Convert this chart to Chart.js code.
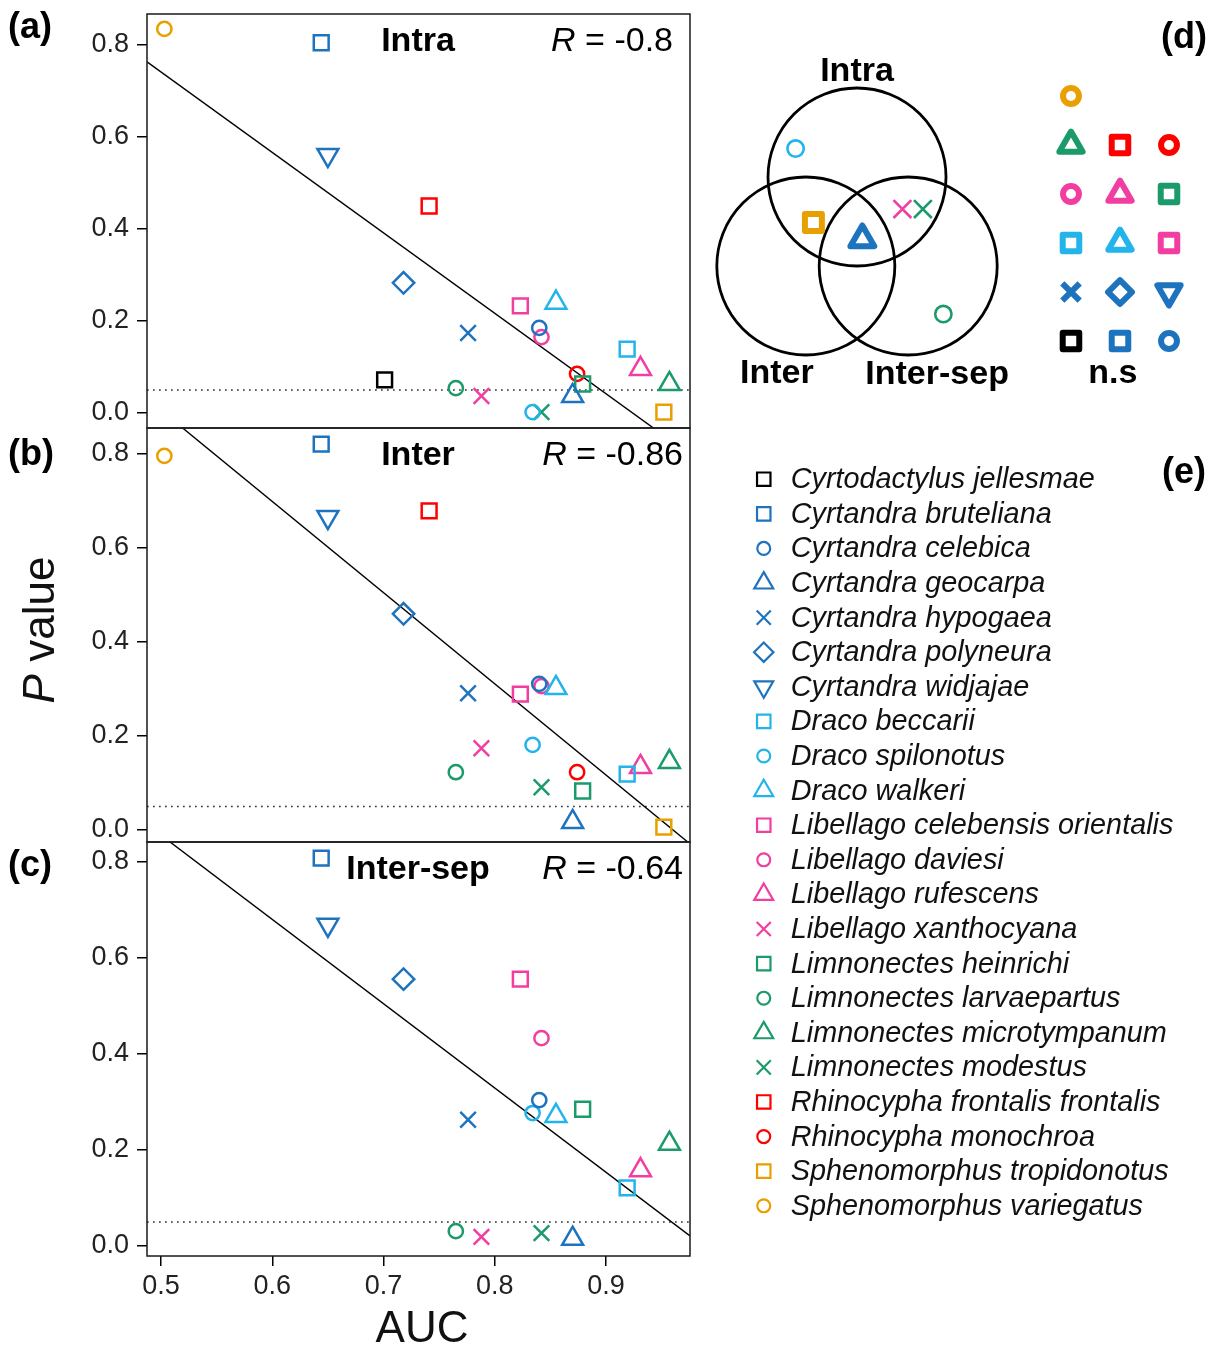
<!DOCTYPE html>
<html>
<head>
<meta charset="utf-8">
<title>P value vs AUC</title>
<script src="https://cdn.jsdelivr.net/npm/chart.js@4.4.1/dist/chart.umd.min.js"></script>
<style>
  body { margin: 0; background: #fff; }
  #wrap { position: relative; width: 1215px; height: 1351px; overflow: hidden; }
  canvas { position: absolute; }
</style>
</head>
<body>
<div id="wrap">
  <canvas id="panelA" width="700" height="440" style="left:0;top:0"></canvas>
  <canvas id="panelB" width="700" height="440" style="left:0;top:418px"></canvas>
  <canvas id="panelC" width="700" height="519" style="left:0;top:832px"></canvas>
  <canvas id="venn" width="515" height="410" style="left:700px;top:0"></canvas>
  <canvas id="legend" width="475" height="775" style="left:740px;top:455px"></canvas>
</div>
<script>
const FONT = '"Liberation Sans", Arial, Helvetica, sans-serif';
Chart.defaults.font.family = FONT;
Chart.defaults.color = '#111';

// species, in legend order
const species = [
  "Cyrtodactylus jellesmae", "Cyrtandra bruteliana", "Cyrtandra celebica", "Cyrtandra geocarpa",
  "Cyrtandra hypogaea", "Cyrtandra polyneura", "Cyrtandra widjajae", "Draco beccarii",
  "Draco spilonotus", "Draco walkeri", "Libellago celebensis orientalis", "Libellago daviesi",
  "Libellago rufescens", "Libellago xanthocyana", "Limnonectes heinrichi", "Limnonectes larvaepartus",
  "Limnonectes microtympanum", "Limnonectes modestus", "Rhinocypha frontalis frontalis",
  "Rhinocypha monochroa", "Sphenomorphus tropidonotus", "Sphenomorphus variegatus"
];
const auc = [0.701, 0.644, 0.840, 0.870, 0.776, 0.718, 0.650, 0.919, 0.834, 0.855, 0.823, 0.842,
             0.931, 0.788, 0.879, 0.765, 0.957, 0.842, 0.741, 0.874, 0.952, 0.503];
const pIntra = [0.072, 0.805, 0.185, 0.037, 0.174, 0.283, 0.561, 0.139, 0.002, 0.240, 0.233, 0.165,
                0.096, 0.037, 0.063, 0.054, 0.063, 0.002, 0.450, 0.085, 0.002, 0.835];
const pInter = [null, 0.821, 0.311, 0.017, 0.291, 0.460, 0.666, 0.119, 0.181, 0.302, 0.289, 0.306,
                0.134, 0.174, 0.083, 0.123, 0.145, 0.091, 0.679, 0.123, 0.006, 0.796];
const pInterSep = [null, 0.808, 0.304, 0.015, 0.263, 0.556, 0.669, 0.121, 0.277, 0.271, 0.556, 0.433,
                   0.158, 0.019, 0.285, 0.031, 0.213, 0.027, null, null, null, null];
const panelNames = ["Intra", "Inter", "Inter-sep"];
const rValues = ["-0.8", "-0.86", "-0.64"];
const fitIntercept = [1.616, 1.863, 1.734];
const fitSlope = [-1.749, -1.940, -1.756];
const alpha = 0.05;
const xTicks = [0.5, 0.6, 0.7, 0.8, 0.9];
const yTicks = [0.0, 0.2, 0.4, 0.6, 0.8];

// venn: species significant in some analysis, and the n.s grid
const vennSets = ["Intra", "Inter", "Inter-sep"];
const vennMembers = [8, 20, 3, 13, 17, 15];
const nsGrid = [[21], [16, 18, 19], [11, 12, 14], [7, 9, 10], [4, 5, 6], [0, 1, 2]];

// ---- styles ----
const BLUE = '#1e73be', SKY = '#22b4ea', PINK = '#f23ea0', GREEN = '#1b9a6a', RED = '#ff0000', ORANGE = '#e8a000';
const speciesColor = ['#000000', BLUE, BLUE, BLUE, BLUE, BLUE, BLUE, SKY, SKY, SKY, PINK, PINK, PINK, PINK,
                      GREEN, GREEN, GREEN, GREEN, RED, RED, ORANGE, ORANGE];
const speciesShape = ['square', 'square', 'circle', 'triangle', 'cross', 'diamond', 'down', 'square', 'circle',
                      'triangle', 'square', 'circle', 'triangle', 'cross', 'square', 'circle', 'triangle', 'cross',
                      'square', 'circle', 'square', 'circle'];
const SHAPES = {
  square:   { style: 'rect', rot: 0, size: 1.0 },
  circle:   { style: 'circle', rot: 0, size: 0.68 },
  triangle: { style: 'triangle', rot: 0, size: 1.15 },
  down:     { style: 'triangle', rot: 180, size: 1.15 },
  cross:    { style: 'crossRot', rot: 0, size: 1.05 },
  diamond:  { style: 'rectRot', rot: 0, size: 1.02 }
};

function markerDataset(i, points, base, lw) {
  const sh = SHAPES[speciesShape[i]];
  return {
    label: species[i],
    data: points,
    pointStyle: sh.style,
    pointRotation: sh.rot,
    pointRadius: base * sh.size,
    pointHoverRadius: base * sh.size,
    pointBorderWidth: lw,
    pointBorderColor: speciesColor[i],
    pointBackgroundColor: 'rgba(0,0,0,0)',
    showLine: false,
    clip: false,
    order: 0
  };
}

// axis limits (x shared by the three panels)
const xMin = 0.4874, xMax = 0.9755;
const yRanges = [[-0.0326, 0.8674], [-0.0255, 0.8553], [-0.0208, 0.8417]];

const panelDecor = {
  id: 'panelDecor',
  afterDatasetsDraw(chart, args, o) {
    const { ctx, chartArea: a } = chart;
    ctx.save();
    ctx.strokeStyle = '#1a1a1a';
    ctx.lineWidth = 1.5;
    ctx.strokeRect(a.left, a.top, a.right - a.left, a.bottom - a.top);
    ctx.fillStyle = '#000';
    ctx.textBaseline = 'middle';
    ctx.textAlign = 'center';
    ctx.font = 'bold 34px ' + FONT;
    ctx.fillText(o.title, a.left + 271, a.top + 28);
    // R = value, with italic R
    ctx.textAlign = 'right';
    ctx.font = '34px ' + FONT;
    const rest = ' = ' + o.r;
    ctx.fillText(rest, o.rRight, a.top + 28);
    const w = ctx.measureText(rest).width;
    ctx.font = 'italic 34px ' + FONT;
    ctx.fillText('R', o.rRight - w, a.top + 28);
    // panel letter
    ctx.textAlign = 'left';
    ctx.font = 'bold 36px ' + FONT;
    ctx.fillText(o.letter, 8, a.top + o.letterDy);
    ctx.restore();
  }
};

const axisTitles = {
  id: 'axisTitles',
  afterDraw(chart, args, o) {
    const ctx = chart.ctx;
    ctx.save();
    ctx.fillStyle = '#111';
    ctx.textBaseline = 'middle';
    if (o.yTitle) {
      ctx.translate(o.yTitle.x, o.yTitle.y);
      ctx.rotate(-Math.PI / 2);
      ctx.font = 'italic 44px ' + FONT;
      const wp = ctx.measureText('P').width;
      ctx.font = '44px ' + FONT;
      const wv = ctx.measureText(' value').width;
      const x0 = -(wp + wv) / 2;
      ctx.textAlign = 'left';
      ctx.font = 'italic 44px ' + FONT;
      ctx.fillText('P', x0, 0);
      ctx.font = '44px ' + FONT;
      ctx.fillText(' value', x0 + wp, 0);
    }
    if (o.xTitle) {
      ctx.textAlign = 'center';
      ctx.font = '44px ' + FONT;
      ctx.fillText('AUC', o.xTitle.x, o.xTitle.y);
    }
    ctx.restore();
  }
};

function makePanel(id, k, pvals, pad, withX, decor, titles) {
  const datasets = [];
  species.forEach((name, i) => {
    if (pvals[i] !== null) datasets.push(markerDataset(i, [{ x: auc[i], y: pvals[i] }], 10.5, 2.5));
  });
  // regression line
  datasets.push({
    type: 'line', label: 'fit',
    data: [xMin, xMax].map(x => ({ x: x, y: fitIntercept[k] + fitSlope[k] * x })),
    borderColor: '#000', borderWidth: 1.4, pointRadius: 0, clip: 0, order: 10
  });
  // P = 0.05
  datasets.push({
    type: 'line', label: 'alpha',
    data: [{ x: xMin, y: alpha }, { x: xMax, y: alpha }],
    borderColor: '#333', borderWidth: 1.7, borderDash: [1.7, 4.3], pointRadius: 0, clip: 0, order: 10
  });

  return new Chart(document.getElementById(id), {
    type: 'scatter',
    data: { datasets: datasets },
    options: {
      responsive: false,
      maintainAspectRatio: false,
      devicePixelRatio: 1,
      animation: false,
      events: [],
      layout: { padding: pad, autoPadding: false },
      scales: {
        x: {
          type: 'linear', min: xMin, max: xMax, display: withX,
          afterFit: s => { if (withX) s.height = 95; s.paddingLeft = 0; s.paddingRight = 0; },
          afterBuildTicks: s => { s.ticks = xTicks.map(v => ({ value: v })); },
          ticks: { callback: v => v.toFixed(1), font: { size: 27 }, color: '#222', padding: 4, maxRotation: 0 },
          grid: { drawOnChartArea: false, tickLength: 10, color: '#000', lineWidth: 1.5 },
          border: { display: false }
        },
        y: {
          type: 'linear', min: yRanges[k][0], max: yRanges[k][1],
          afterFit: s => { s.width = 147; s.paddingTop = 0; s.paddingBottom = 0; },
          afterBuildTicks: s => { s.ticks = yTicks.map(v => ({ value: v })); },
          ticks: { callback: v => v.toFixed(1), font: { size: 27 }, color: '#222', padding: 8 },
          grid: { drawOnChartArea: false, tickLength: 10, color: '#000', lineWidth: 1.5 },
          border: { display: false }
        }
      },
      plugins: {
        legend: { display: false },
        tooltip: { enabled: false },
        panelDecor: decor,
        axisTitles: titles || {}
      }
    },
    plugins: [panelDecor, axisTitles]
  });
}

makePanel('panelA', 0, pIntra, { top: 14, bottom: 12, left: 0, right: 10 }, false,
  { title: panelNames[0], r: rValues[0], rRight: 673, letter: '(a)', letterDy: 14 });
makePanel('panelB', 1, pInter, { top: 10, bottom: 16, left: 0, right: 10 }, false,
  { title: panelNames[1], r: rValues[1], rRight: 683, letter: '(b)', letterDy: 27 },
  { yTitle: { x: 42, y: 212 } });
makePanel('panelC', 2, pInterSep, { top: 10, bottom: 0, left: 0, right: 10 }, true,
  { title: panelNames[2], r: rValues[2], rRight: 683, letter: '(c)', letterDy: 24 },
  { xTitle: { x: 422, y: 498 } });

// ---- (d) venn diagram, unit = circle radius ----
const vennCenters = [{ x: 0, y: 1.0 }, { x: -0.575, y: 0 }, { x: 0.575, y: 0 }];
const vennLabelPos = [{ x: 0, y: 2.18 }, { x: -0.9, y: -1.207 }, { x: 0.9, y: -1.22 }];
// placement of each member inside its region, and whether drawn bold
const vennSpots = [
  { x: -0.69, y: 1.32, bold: false },
  { x: -0.49, y: 0.49, bold: true },
  { x: 0.06, y: 0.30, bold: true },
  { x: 0.51, y: 0.64, bold: false },
  { x: 0.74, y: 0.64, bold: false },
  { x: 0.97, y: -0.54, bold: false }
];
const grid = { x0: 2.404, y0: 1.910, step: 0.5506 };

const vennDatasets = [{
  label: 'sets',
  data: vennCenters,
  pointStyle: 'circle',
  pointRadius: c => { const s = c.chart.scales.x; return s.getPixelForValue(1) - s.getPixelForValue(0); },
  pointBorderWidth: 2.8,
  pointBorderColor: '#000',
  pointBackgroundColor: 'rgba(0,0,0,0)',
  clip: false,
  order: 5
}];
vennMembers.forEach((sp, j) => {
  const spot = vennSpots[j];
  vennDatasets.push(markerDataset(sp, [{ x: spot.x, y: spot.y }], 12, spot.bold ? 6 : 2.6));
});
nsGrid.forEach((row, r) => row.forEach((sp, c) => {
  vennDatasets.push(markerDataset(sp, [{ x: grid.x0 + c * grid.step, y: grid.y0 - r * grid.step }], 11.7, 6));
}));

const vennText = {
  id: 'vennText',
  beforeDatasetsDraw(chart) { chart.ctx.lineJoin = 'round'; },
  afterDraw(chart) {
    const { ctx, scales: { x, y } } = chart;
    ctx.save();
    ctx.fillStyle = '#000';
    ctx.textAlign = 'center';
    ctx.textBaseline = 'middle';
    ctx.font = 'bold 34px ' + FONT;
    vennSets.forEach((s, i) => ctx.fillText(s, x.getPixelForValue(vennLabelPos[i].x), y.getPixelForValue(vennLabelPos[i].y)));
    ctx.fillText('n.s', x.getPixelForValue(grid.x0 + 0.47), y.getPixelForValue(-1.207));
    ctx.font = 'bold 36px ' + FONT;
    ctx.fillText('(d)', x.getPixelForValue(3.674), y.getPixelForValue(2.562));
    ctx.restore();
  }
};

new Chart(document.getElementById('venn'), {
  type: 'scatter',
  data: { datasets: vennDatasets },
  options: {
    responsive: false, maintainAspectRatio: false, devicePixelRatio: 1, animation: false, events: [],
    layout: { padding: 0, autoPadding: false },
    scales: {
      x: { display: false, min: -1.764, max: 4.022 },
      y: { display: false, min: -1.618, max: 2.989 }
    },
    plugins: { legend: { display: false }, tooltip: { enabled: false } }
  },
  plugins: [vennText]
});

// ---- (e) species legend ----
const legendNames = {
  id: 'legendNames',
  afterDraw(chart) {
    const { ctx, scales: { x, y } } = chart;
    ctx.save();
    ctx.fillStyle = '#111';
    ctx.textAlign = 'left';
    ctx.textBaseline = 'middle';
    ctx.font = 'italic 28.8px ' + FONT;
    species.forEach((name, i) => ctx.fillText(name, x.getPixelForValue(0.05) + 27, y.getPixelForValue(i) + 1));
    ctx.font = 'bold 36px ' + FONT;
    ctx.textAlign = 'center';
    ctx.fillStyle = '#000';
    ctx.fillText('(e)', 444, 18);
    ctx.restore();
  }
};

new Chart(document.getElementById('legend'), {
  type: 'scatter',
  data: { datasets: species.map((name, i) => markerDataset(i, [{ x: 0.05, y: i }], 9.5, 2.2)) },
  options: {
    responsive: false, maintainAspectRatio: false, devicePixelRatio: 1, animation: false, events: [],
    layout: { padding: 0, autoPadding: false },
    scales: {
      x: { display: false, min: 0, max: 1 },
      y: { display: false, reverse: true, min: -0.7, max: 21.7 }
    },
    plugins: { legend: { display: false }, tooltip: { enabled: false } }
  },
  plugins: [legendNames]
});
</script>
</body>
</html>
